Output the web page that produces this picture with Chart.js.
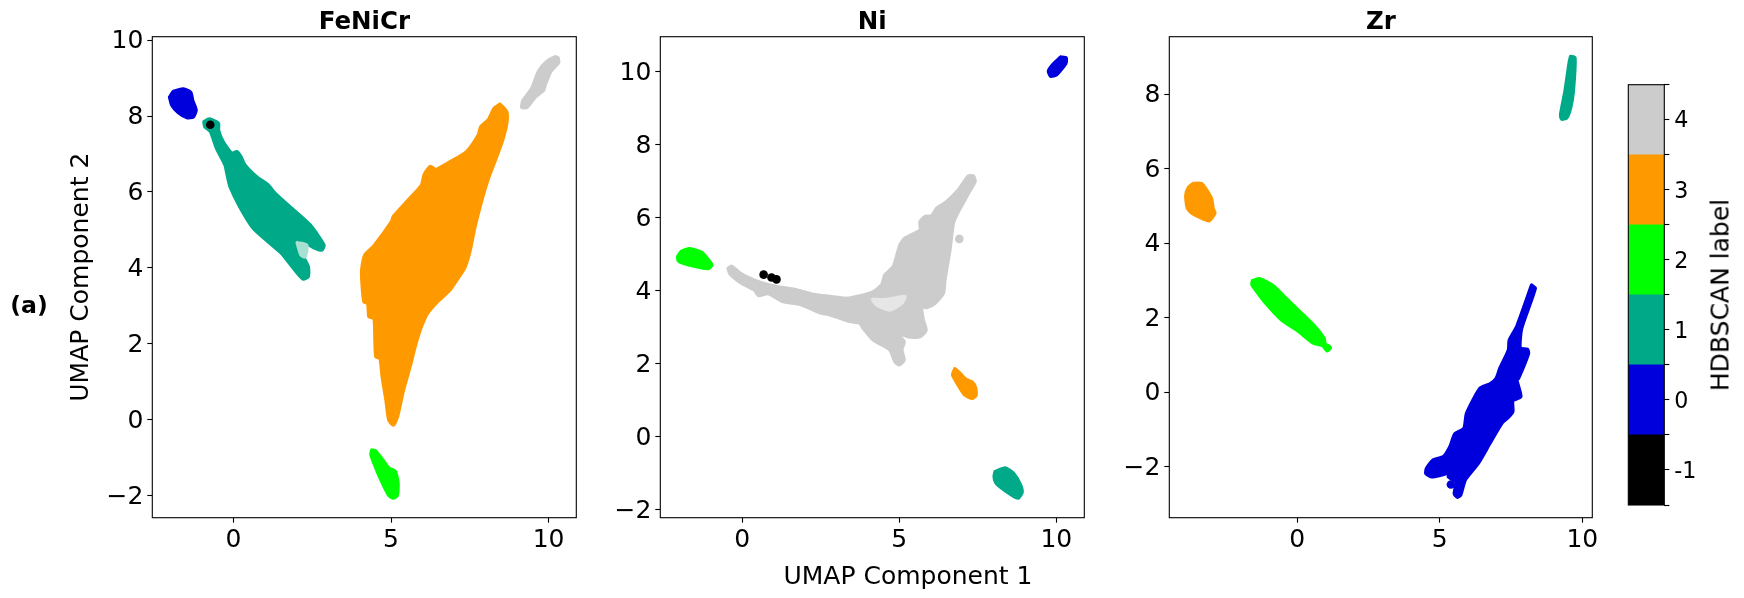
<!DOCTYPE html>
<html><head><meta charset="utf-8">
<script src="https://cdn.jsdelivr.net/npm/chart.js@4"></script>
<style>
html,body{margin:0;padding:0;background:#fff;width:1744px;height:598px;overflow:hidden;font-family:"DejaVu Sans",sans-serif;color:#000}
canvas{position:absolute;top:0}
.t{position:absolute;white-space:nowrap;line-height:1;transform:translate(-50%,-50%)}
</style></head><body>
<canvas id="c1" style="left:0" width="590" height="598"></canvas>
<canvas id="c2" style="left:590px" width="510" height="598"></canvas>
<canvas id="c3" style="left:1100px" width="510" height="598"></canvas>
<canvas id="c4" style="left:1620px" width="124" height="598"></canvas>
<div class="t" style="left:29px;top:306px;font-size:23.6px;font-weight:bold">(a)</div>
<div class="t" style="left:908px;top:575px;font-size:25px">UMAP Component 1</div>
<div class="t" style="left:1720px;top:295px;font-size:25px;transform:translate(-50%,-50%) rotate(-90deg)">HDBSCAN label</div>
<script>
// ---- colours per HDBSCAN label
const labels = [-1, 0, 1, 2, 3, 4];
const colors = ['#000000', '#0000DD', '#00AA88', '#00FF00', '#FF9900', '#CCCCCC'];

// ---- axis ticks
const xTicks = [0, 5, 10];
const yTicks1 = [-2, 0, 2, 4, 6, 8, 10];
const yTicks2 = [-2, 0, 2, 4, 6, 8, 10];
const yTicks3 = [-2, 0, 2, 4, 6, 8];
const cbTicks = [-1.5, -1, -0.5, 0, 0.5, 1, 1.5, 2, 2.5, 3, 3.5, 4, 4.5];

// ---- FeNiCr clusters (cluster outlines)
const fe_black = [[-0.74, 7.77]];
const fe_blue = [[-2.03,8.50],[-1.90,8.65],[-1.59,8.71],[-1.36,8.62],[-1.30,8.41],[-1.19,8.16],[-1.28,7.98],[-1.48,7.96],[-1.75,8.09],[-1.96,8.29]];
const fe_teal = [[-0.94,7.85],[-0.77,7.92],[-0.48,7.81],[-0.48,7.63],[-0.33,7.32],[-0.06,7.02],[0.10,7.06],[0.23,6.93],[0.36,6.71],[0.73,6.40],[1.10,6.18],[1.32,5.96],[1.79,5.61],[2.43,5.13],[2.87,4.60],[2.80,4.47],[2.53,4.54],[2.21,4.69],[2.00,4.65],[2.16,4.38],[2.37,4.03],[2.37,3.77],[2.21,3.71],[1.95,3.94],[1.53,4.38],[1.10,4.69],[0.63,5.04],[0.20,5.61],[-0.11,6.14],[-0.20,6.45],[-0.27,6.71],[-0.54,7.15],[-0.73,7.59],[-0.91,7.72]];
const fe_green = [[4.39,-0.80],[4.50,-0.82],[4.76,-1.09],[4.92,-1.27],[5.13,-1.36],[5.22,-1.68],[5.19,-2.00],[5.06,-2.06],[4.92,-1.98],[4.66,-1.55],[4.50,-1.23],[4.36,-0.91]];
const fe_orange = [[8.46,8.31],[8.67,8.11],[8.67,7.81],[8.54,7.37],[8.35,6.93],[8.09,6.36],[7.88,5.79],[7.66,5.08],[7.51,4.47],[7.35,4.03],[7.19,3.81],[6.87,3.42],[6.47,3.11],[6.15,2.80],[5.94,2.41],[5.76,1.92],[5.60,1.40],[5.39,0.78],[5.20,0.08],[5.07,-0.14],[4.93,-0.01],[4.84,0.52],[4.72,1.13],[4.65,1.62],[4.52,1.66],[4.49,2.10],[4.46,2.67],[4.30,2.71],[4.26,3.07],[4.14,3.11],[4.08,3.59],[4.07,3.94],[4.17,4.34],[4.44,4.56],[5.02,5.22],[5.07,5.35],[5.55,5.79],[5.97,6.18],[6.05,6.45],[6.24,6.67],[6.43,6.58],[6.50,6.62],[7.08,6.89],[7.40,7.06],[7.77,7.50],[7.85,7.72],[8.09,7.90],[8.27,8.20]];
const fe_gray = [[10.30,9.53],[10.32,9.41],[10.07,9.18],[9.89,8.82],[9.84,8.68],[9.58,8.50],[9.31,8.23],[9.15,8.23],[9.19,8.41],[9.47,8.73],[9.68,9.18],[9.95,9.44],[10.21,9.56]];
const fe_tealFringe = [[2.02,4.66],[2.32,4.60],[2.27,4.29],[2.14,4.34]];

// ---- Ni clusters
const ni_black = [[0.68,4.44],[0.93,4.36],[1.09,4.31]];
const ni_blue = [[10.14,10.40],[10.31,10.38],[10.30,10.23],[10.01,9.92],[9.82,9.88],[9.75,10.02],[9.90,10.21]];
const ni_teal = [[8.05,-0.96],[8.37,-0.86],[8.63,-1.00],[8.84,-1.29],[8.91,-1.52],[8.79,-1.68],[8.58,-1.60],[8.10,-1.29],[8.02,-1.10]];
const ni_green = [[-2.06,4.93],[-1.93,5.08],[-1.67,5.15],[-1.30,5.05],[-1.14,4.91],[-0.97,4.70],[-1.08,4.61],[-1.51,4.67],[-1.93,4.77],[-2.04,4.83]];
const ni_orange = [[6.77,1.86],[6.93,1.74],[7.12,1.57],[7.32,1.50],[7.43,1.33],[7.44,1.13],[7.32,1.05],[7.09,1.14],[6.88,1.41],[6.70,1.69]];
const ni_gray = [[-0.45,4.61],[-0.34,4.67],[-0.07,4.48],[0.35,4.30],[0.88,4.15],[1.31,4.08],[1.78,4.01],[2.26,3.90],[2.79,3.84],[3.32,3.79],[3.85,3.88],[4.17,3.97],[4.44,4.16],[4.54,4.43],[4.81,4.66],[5.02,5.25],[5.18,5.44],[5.66,5.66],[5.66,5.89],[5.82,6.03],[6.03,6.05],[6.19,6.26],[6.51,6.44],[6.88,6.76],[7.20,7.14],[7.36,7.14],[7.41,6.99],[7.20,6.67],[6.88,6.17],[6.72,5.85],[6.61,5.12],[6.45,4.30],[6.40,3.93],[6.14,3.66],[5.87,3.54],[5.71,3.56],[5.76,3.20],[5.85,2.92],[5.66,2.74],[5.29,2.74],[4.86,2.88],[5.15,2.61],[5.08,2.38],[5.15,2.10],[5.00,1.97],[4.86,2.06],[4.70,2.38],[4.17,2.65],[3.85,2.97],[3.75,3.11],[3.38,3.17],[2.79,3.34],[2.47,3.40],[1.84,3.63],[1.31,3.70],[0.83,3.92],[0.51,3.87],[0.40,4.01],[-0.07,4.23],[-0.39,4.46]];
const ni_grayDot = [[6.91,5.42]];
const ni_grayGap = [[4.15,3.76],[4.49,3.75],[4.81,3.79],[5.18,3.84],[5.07,3.65],[4.70,3.47],[4.38,3.56],[4.23,3.65]];

// ---- Zr clusters
const zr_blue = [[8.22,2.87],[8.35,2.79],[7.87,1.71],[7.82,1.18],[8.07,1.15],[8.11,1.04],[7.76,0.37],[7.70,0.33],[7.84,-0.12],[7.56,-0.23],[7.56,-0.52],[7.41,-0.67],[7.17,-0.84],[6.76,-1.37],[6.35,-1.91],[5.89,-2.36],[5.73,-2.76],[5.62,-2.82],[5.51,-2.73],[5.57,-2.40],[5.30,-2.27],[5.42,-2.02],[5.24,-2.18],[4.72,-2.27],[4.51,-2.18],[4.54,-2.04],[4.77,-1.82],[5.13,-1.73],[5.36,-1.46],[5.53,-1.12],[5.85,-0.97],[5.94,-0.57],[6.41,0.10],[6.76,0.22],[6.98,0.37],[7.11,0.64],[7.41,1.13],[7.44,1.40],[7.70,1.76]];
const zr_blueDot = [[5.39,-2.48]];
const zr_teal = [[9.59,9.01],[9.74,8.98],[9.68,8.06],[9.59,7.64],[9.45,7.36],[9.27,7.33],[9.24,7.45],[9.39,8.06],[9.54,8.84]];
const zr_green = [[-1.57,2.99],[-1.31,3.04],[-0.84,2.85],[-0.49,2.59],[-0.02,2.24],[0.56,1.81],[0.94,1.44],[0.97,1.30],[1.16,1.20],[1.05,1.11],[0.89,1.25],[0.56,1.32],[-0.02,1.67],[-0.55,1.94],[-1.13,2.41],[-1.45,2.73],[-1.59,2.89]];
const zr_orange = [[-3.65,5.60],[-3.36,5.60],[-3.18,5.42],[-3.01,5.19],[-2.95,4.91],[-2.89,4.81],[-3.09,4.60],[-3.30,4.65],[-3.71,4.81],[-3.86,4.95],[-3.91,5.28],[-3.82,5.49]];

const FONT = 'DejaVu Sans';
Chart.defaults.font.family = FONT;
Chart.defaults.color = '#000';
Chart.defaults.animation = false;

const toXY = p => ({x: p[0], y: p[1]});
function blob(pts, color) {
  const data = pts.concat([pts[0]]).map(toXY);
  return {data, showLine: true, fill: 'shape', backgroundColor: color, borderColor: color,
          borderWidth: 3.5, borderJoinStyle: 'round', borderCapStyle: 'round', tension: 0.2,
          pointRadius: 0, pointHoverRadius: 0};
}
function dots(pts, color) {
  return {data: pts.map(toXY), showLine: false, backgroundColor: color, borderColor: color,
          borderWidth: 0, pointRadius: 4.3, pointHoverRadius: 4.3};
}
const frame = {id: 'frame', afterDraw(c) {
  const a = c.chartArea, g = c.ctx;
  g.save(); g.strokeStyle = '#000'; g.lineWidth = 1.1;
  g.strokeRect(a.left, a.top, a.right - a.left, a.bottom - a.top);
  g.restore();
}};
const minusTick = v => String(v).replace('-', '\u2212');

function axis(min, max, ticks, fit, nudge) {
  return {
    type: 'linear', min, max,
    afterBuildTicks: s => { s.ticks = ticks.map(v => ({value: v})); },
    afterFit: fit,
    ticks: {font: {size: 25}, padding: nudge ? 4 : 3, labelOffset: nudge, autoSkip: false, maxRotation: 0, callback: minusTick, color: '#000'},
    grid: {drawOnChartArea: false, drawTicks: true, tickLength: 5, tickColor: '#000', tickWidth: 1.1},
    border: {display: false}
  };
}
const TOP = 36.7, XH = 80.3;
function panel(id, title, ds, lims, yt, left, right, yTitle) {
  const y = axis(lims[2], lims[3], yt, s => { s.width = left; }, 1.5);
  if (yTitle) y.title = {display: true, text: yTitle, font: {size: 25}, padding: {top: 66, bottom: 0}, color: '#000'};
  new Chart(document.getElementById(id), {
    type: 'scatter',
    data: {datasets: ds},
    options: {
      responsive: false,
      layout: {padding: {left: 0, right: right, top: 0, bottom: 0}},
      plugins: {
        legend: {display: false}, tooltip: {enabled: false},
        title: {display: true, fullSize: false, text: title, color: '#000', font: {size: 24.5, weight: 'bold', lineHeight: 1},
                padding: {top: 10, bottom: TOP - 10 - 24.5}}
      },
      scales: {x: axis(lims[0], lims[1], xTicks, s => { s.height = XH; }, 0), y}
    },
    plugins: [frame]
  });
}

panel('c1', 'FeNiCr', [
  dots(fe_black, colors[0]), blob(fe_blue, colors[1]),
  blob(fe_tealFringe, '#A8E0D2'), blob(fe_teal, colors[2]),
  blob(fe_green, colors[3]), blob(fe_orange, colors[4]), blob(fe_gray, colors[5])
], [-2.58, 10.88, -2.58, 10.09], yTicks1, 152.3, 13.7, 'UMAP Component 2');

panel('c2', 'Ni', [
  dots(ni_black, colors[0]), blob(ni_blue, colors[1]), blob(ni_teal, colors[2]),
  blob(ni_green, colors[3]), blob(ni_orange, colors[4]), blob(ni_grayGap, '#E6E6E6'),
  dots(ni_grayDot, colors[5]), blob(ni_gray, colors[5])
], [-2.61, 10.89, -2.22, 10.96], yTicks2, 70.3, 15.7);

panel('c3', 'Zr', [
  blob(zr_blue, colors[1]), dots(zr_blueDot, colors[1]), blob(zr_teal, colors[2]),
  blob(zr_green, colors[3]), blob(zr_orange, colors[4])
], [-4.49, 10.35, -3.37, 9.54], yTicks3, 69.3, 17.7);

// ---- colour bar
new Chart(document.getElementById('c4'), {
  type: 'bar',
  data: {labels: [''], datasets: labels.map((v, i) => ({
    data: [[v - 0.5, v + 0.5]], backgroundColor: colors[i], borderWidth: 0,
    barPercentage: 1, categoryPercentage: 1, grouped: false
  }))},
  options: {
    responsive: false,
    layout: {padding: {left: 8.3, right: 0, top: 84.7, bottom: 598 - 505}},
    plugins: {legend: {display: false}, tooltip: {enabled: false}},
    scales: {
      x: {display: false, stacked: false},
      y: {
        type: 'linear', position: 'right', min: -1.5, max: 4.5,
        afterBuildTicks: s => { s.ticks = cbTicks.map(v => ({value: v})); },
        afterFit: s => { s.width = 79.7; },
        ticks: {font: {size: 22.2}, padding: 5, labelOffset: 2, autoSkip: false, maxRotation: 0, color: '#000',
                callback: v => Number.isInteger(v) ? String(v) : ''},
        grid: {drawOnChartArea: false, drawTicks: true, tickLength: 5, tickColor: '#000', tickWidth: 1.1},
        border: {display: false}
      }
    }
  },
  plugins: [frame]
});
</script>
</body></html>
